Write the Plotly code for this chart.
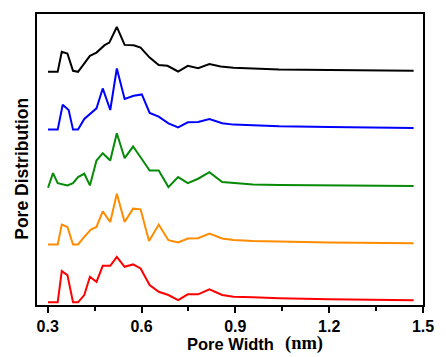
import plotly.graph_objects as go

# Pore width (nm) sample positions and distribution values (arbitrary units)
black_x = [0.301,0.332,0.345,0.363,0.381,0.397,0.435,0.456,0.482,0.497,0.521,0.546,0.575,0.597,0.626,0.655,0.683,0.717,0.748,0.781,0.817,0.853,0.894,0.95,1.04,1.2,1.47]
black_y = [236.0,236.0,256.0,254.3,237.0,236.0,252.0,255.3,262.7,265.3,281.0,263.0,262.7,260.3,250.3,242.7,242.0,236.3,242.0,239.7,243.7,241.3,240.0,239.3,238.3,237.7,237.0]

blue_x = [0.301,0.332,0.348,0.367,0.381,0.397,0.417,0.438,0.456,0.476,0.500,0.521,0.546,0.575,0.601,0.626,0.655,0.686,0.717,0.748,0.781,0.817,0.858,0.894,0.956,1.04,1.2,1.47]
blue_y = [178.0,178.0,203.0,197.7,178.0,178.0,188.7,194.3,199.3,219.3,197.7,239.3,208.7,212.0,213.3,194.7,191.0,184.3,180.3,185.3,185.7,188.7,184.3,183.0,182.3,181.3,180.7,179.7]

green_x = [0.301,0.317,0.332,0.363,0.381,0.397,0.417,0.435,0.456,0.476,0.500,0.521,0.546,0.573,0.597,0.626,0.655,0.686,0.717,0.748,0.781,0.817,0.858,0.894,0.956,1.04,1.2,1.47]
green_y = [119.7,134.3,124.3,122.0,124.3,130.3,133.7,122.0,147.0,154.3,147.0,174.3,149.3,161.0,150.3,137.0,137.0,120.3,130.3,124.3,128.7,135.3,125.3,124.3,123.0,122.3,121.7,121.3]

orange_x = [0.301,0.332,0.345,0.363,0.381,0.397,0.417,0.438,0.456,0.476,0.500,0.521,0.546,0.573,0.597,0.624,0.655,0.686,0.717,0.748,0.781,0.817,0.858,0.894,0.956,1.04,1.2,1.47]
orange_y = [62.7,62.7,82.7,80.3,62.7,62.7,70.3,77.7,80.3,96.0,85.3,113.7,85.3,98.7,98.0,66.3,82.7,67.0,64.7,68.7,69.0,73.7,68.7,67.3,66.3,65.7,64.7,64.0]

red_x = [0.301,0.332,0.345,0.363,0.381,0.397,0.417,0.435,0.456,0.476,0.500,0.521,0.546,0.573,0.597,0.626,0.655,0.686,0.717,0.748,0.781,0.817,0.858,0.894,0.956,1.04,1.2,1.47]
red_y = [4.7,4.7,36.0,32.0,4.7,4.7,12.0,30.3,25.3,41.3,41.3,50.3,40.3,42.7,38.7,22.0,15.3,12.0,7.0,12.7,12.7,17.7,12.0,10.3,9.7,8.7,7.7,6.7]

series = [
    ("black", black_x, black_y, "#000000"),
    ("blue", blue_x, blue_y, "#0000FF"),
    ("green", green_x, green_y, "#078A07"),
    ("orange", orange_x, orange_y, "#FF8C00"),
    ("red", red_x, red_y, "#FF0000"),
]

x_ticks = [0.3, 0.6, 0.9, 1.2, 1.5]
x_ticklabels = ["0.3", "0.6", "0.9", "1.2", "1.5"]

fig = go.Figure()
for name, xs, ys, col in series:
    fig.add_trace(go.Scatter(x=xs, y=ys, mode="lines", name=name,
                             line=dict(color=col, width=2), showlegend=False))

sans = "Liberation Sans, Arial, sans-serif"
serif = "Liberation Serif, Times New Roman, serif"

fig.update_layout(
    width=446, height=357,
    margin=dict(l=37, r=12, t=13, b=52),
    paper_bgcolor="white", plot_bgcolor="white",
    font=dict(family=sans, color="black"),
    xaxis=dict(
        range=[0.2658, 1.5], showgrid=False, zeroline=False,
        showline=True, linecolor="black", linewidth=2, mirror=True,
        ticks="outside", ticklen=6, tickwidth=2, tickcolor="black",
        tickvals=x_ticks, ticktext=x_ticklabels, ticklabelstandoff=0,
        tickfont=dict(size=16, weight="bold", family=sans),
        minor=dict(ticks="outside", ticklen=4, tickwidth=2, tickcolor="black",
                   tickvals=[0.45, 0.75, 1.05, 1.35]),
    ),
    yaxis=dict(
        range=[2, 294], showgrid=False, zeroline=False,
        showline=True, linecolor="black", linewidth=2, mirror=True,
        ticks="", showticklabels=False,
    ),
    annotations=[
        dict(text="Pore Distribution", xref="paper", yref="paper",
             x=-0.039, y=0.468, xanchor="center", yanchor="middle",
             textangle=-90, showarrow=False,
             font=dict(size=17.5, weight="bold", family=sans)),
        dict(text="Pore Width", xref="paper", yref="paper", x=0.5025, y=-0.1678,
             xanchor="center", yanchor="bottom", showarrow=False, borderpad=0,
             font=dict(size=16.5, weight="bold", family=sans)),
        dict(text="(nm)", xref="paper", yref="paper", x=0.6927, y=-0.1729,
             xanchor="center", yanchor="bottom", showarrow=False, borderpad=0,
             font=dict(size=18.5, weight="bold", family=serif)),
    ],
)

fig.write_html("out.html")
